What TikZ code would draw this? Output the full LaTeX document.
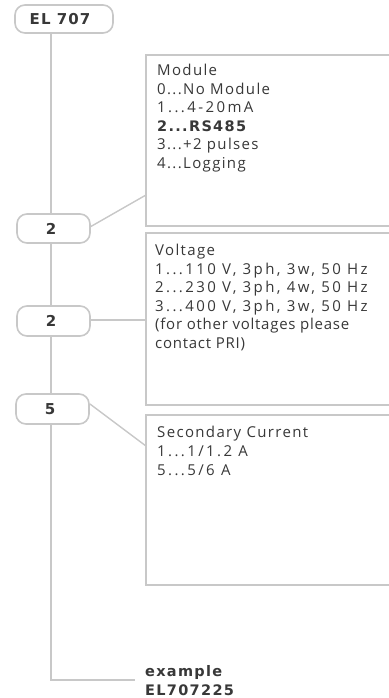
\documentclass[tikz,border=0pt]{standalone}
\usepackage{fontspec}
\setmainfont{Open Sans}
\newfontfamily\lfont[LetterSpace=9]{Open Sans}
\newfontfamily\sfont[LetterSpace=5]{Open Sans}
\newfontfamily\nfont[LetterSpace=16]{Open Sans}
\newfontfamily\bfont[LetterSpace=9]{DejaVu Sans Bold}
\newfontfamily\tagfont[LetterSpace=7]{DejaVu Sans Bold}
\definecolor{lineg}{HTML}{C8C8C8}
\definecolor{txtg}{HTML}{383838}
\begin{document}
\begin{tikzpicture}[x=1pt,y=-1pt,
  tag/.style={draw=lineg,line width=1.6pt,rounded corners=10pt,fill=white},
  panel/.style={draw=lineg,line width=1.6pt,fill=white},
  conn/.style={draw=lineg,line width=1.4pt},
  txt/.style={anchor=base west,inner sep=0pt,text=txtg,font=\lfont\fontsize{15}{18}\selectfont},
  ntxt/.style={txt,font=\nfont\fontsize{15}{18}\selectfont},
  stxt/.style={txt,font=\sfont\fontsize{15}{18}\selectfont},
  btxt/.style={txt,font=\bfont\fontsize{14.5}{18}\selectfont},
  tagtxt/.style={inner sep=0pt,text=txtg,font=\tagfont\fontsize{15}{18}\selectfont}]
\useasboundingbox[fill=white] (0,0) rectangle (388,698);
% main trunk
\coordinate (top) at (51,33);
\coordinate (corner) at (51,680);
\coordinate (end) at (135,680);
\draw[conn] (top) -- (corner) -- (end);
% tags
\draw[tag] (15,5) rectangle (113,33);
\node[tagtxt] (el) at (60,19.5) {EL 707};
\draw[tag] (17,214) rectangle (90,243);
\node[tagtxt] (t1) at (51,229) {2};
\draw[tag] (17,306) rectangle (90,336);
\node[tagtxt] (t2) at (51,321) {2};
\draw[tag] (16,394) rectangle (89,424);
\node[tagtxt] (t3) at (50,409) {5};
% panels
\draw[panel] (146,55) rectangle (396,226);
\draw[panel] (146,233) rectangle (396,405);
\draw[panel] (146,415) rectangle (396,585);
% connectors
\coordinate (c1a) at (90,227);
\coordinate (c1b) at (146,195);
\coordinate (c2a) at (90,320);
\coordinate (c2b) at (146,320);
\coordinate (c3a) at (90,404);
\coordinate (c3b) at (146,446);
\draw[conn] (c1a) -- (c1b);
\draw[conn] (c2a) -- (c2b);
\draw[conn] (c3a) -- (c3b);
% module text
\node[txt] (m0) at (157,75.5) {Module};
\node[txt] (m1) at (157,94.1) {0...No Module};
\node[ntxt] (m2) at (157,112.7) {1...4-20mA};
\node[btxt] (m3) at (157,131.3) {2...RS485};
\node[txt] (m4) at (157,149.9) {3...+2 pulses};
\node[txt] (m5) at (157,168.5) {4...Logging};
% voltage text
\node[txt] (v0) at (155,255.5) {Voltage};
\node[ntxt] (v1) at (155,274.1) {1...110 V, 3ph, 3w, 50 Hz};
\node[ntxt] (v2) at (155,292.7) {2...230 V, 3ph, 4w, 50 Hz};
\node[ntxt] (v3) at (155,311.3) {3...400 V, 3ph, 3w, 50 Hz};
\node[stxt] (v4) at (155,329.9) {(for other voltages please};
\node[stxt] (v5) at (155,348.5) {contact PRI)};
% secondary text
\node[txt] (s0) at (157,437.5) {Secondary Current};
\node[ntxt] (s1) at (157,456.5) {1...1/1.2 A};
\node[ntxt] (s2) at (157,475.5) {5...5/6 A};
% example
\node[btxt] (e0) at (145,676) {example};
\node[btxt] (e1) at (145,695) {EL707225};
\end{tikzpicture}
\end{document}
